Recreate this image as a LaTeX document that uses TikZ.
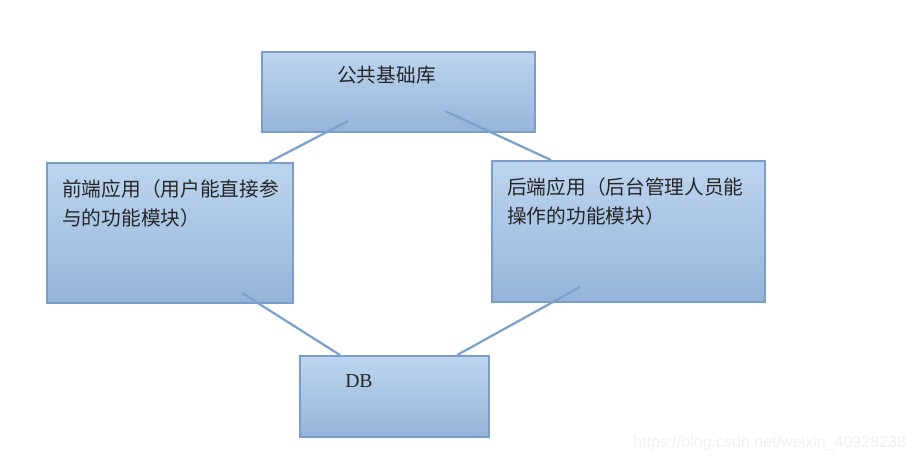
\documentclass[tikz,border=0pt]{standalone}
\usepackage{fontspec}
\setmainfont{Liberation Serif}
\newfontfamily\cjk{Noto Sans CJK SC}
\newfontfamily\wmfont{Liberation Sans}
\usetikzlibrary{calc}

\definecolor{boxtop}{HTML}{BCD5EF}
\definecolor{boxbot}{HTML}{96B4DA}
\definecolor{boxline}{HTML}{7C9DC8}
\definecolor{linkcol}{HTML}{7CA1CE}

\begin{document}
\begin{tikzpicture}[x=0.025cm,y=-0.025cm,
    block/.style={draw=boxline,line width=1.3pt,top color=boxtop,bottom color=boxbot,
      inner sep=0pt,minimum width=#1},
    link/.style={draw=linkcol,line width=1.6pt},
    label/.style={inner sep=0pt,text=black!85,align=left,
      font=\cjk\fontsize{14}{20.6}\selectfont}]
        \useasboundingbox (0,0) rectangle (914,463);
        % the four boxes
        \node[block=6.825cm,minimum height=2cm] (ku) at (398.5,92) {};
        \node[block=6.15cm,minimum height=3.5cm] (qian) at (170,233) {};
        \node[block=6.825cm,minimum height=3.525cm] (hou) at (628.5,231.5) {};
        \node[block=4.725cm,minimum height=2.025cm] (db) at (394.5,396.5) {};
        % texts
        \node[label,anchor=west] (kutext) at (337,75) {公共基础库};
        \node[label,anchor=north west] (qiantext) at (62,179.5)
          {前端应用（用户能直接参\\与的功能模块）};
        \node[label,anchor=north west] (houtext) at (507,177.5)
          {后端应用（后台管理人员能\\操作的功能模块）};
        \node[inner sep=0pt,anchor=west,font=\fontsize{14}{16}\selectfont,text=black!85]
          (dbtext) at (345,381.5) {DB};
        % routine for the links
        \coordinate (kuL) at (348,121);
        \coordinate (kuR) at (445,111);
        \coordinate (qianB) at (242,293);
        \coordinate (houB) at (580,287);
        \draw[link] (kuL) -- ($(qian.north west)+(223,0)$);
        \draw[link] (kuR) -- ($(hou.north west)+(60,0)$);
        \draw[link] (qianB) -- ($(db.north west)+(41,0)$);
        \draw[link] (houB) -- ($(db.north west)+(158,0)$);
        % watermark
        \node[inner sep=0pt,anchor=west,text=black!6,font=\wmfont\fontsize{11.4}{13}\selectfont]
          (mark) at (633,443) {https://blog.csdn.net/weixin\_40928238};
      \end{tikzpicture}
\end{document}
